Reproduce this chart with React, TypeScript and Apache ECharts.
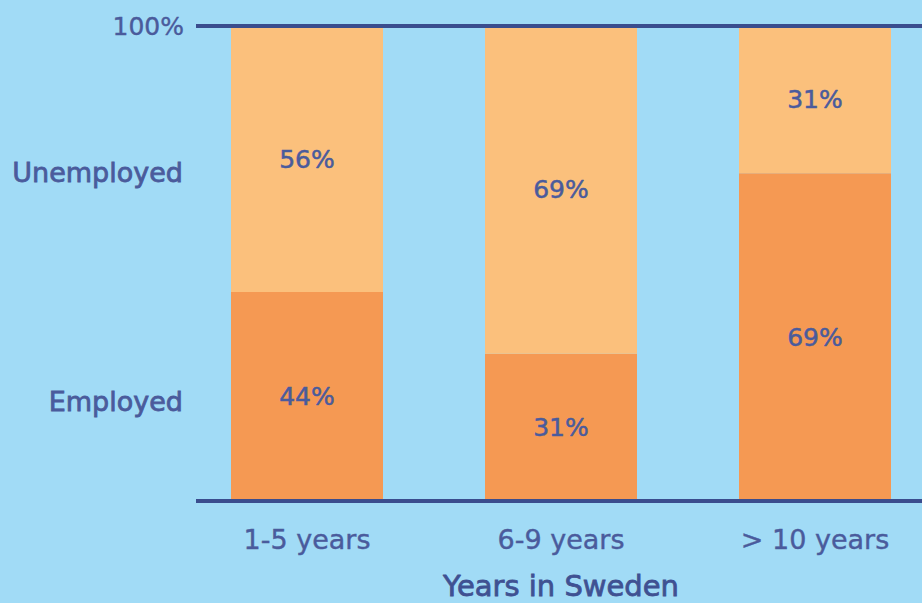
import React, { useEffect, useRef } from "react";
import * as echarts from "echarts";

const categories = ["1-5 years", "6-9 years", "> 10 years"];
const employed = [44, 31, 69];
const unemployed = [56, 69, 31];
const yTickLabels = ["100%"];
const sideLabels = ["Unemployed", "Employed"];
const axisName = "Years in Sweden";

const TEXT = "#4A5B9C";
const LINE = "#3A4D8E";
const FONT = "DejaVu Sans";

export default function App() {
  const ref = useRef<HTMLDivElement>(null);
  useEffect(() => {
    if (!ref.current) return;
    const chart = echarts.init(ref.current, null, { renderer: "svg" });
    const labelStyle = {
      show: true,
      position: "inside",
      formatter: (p: any) => p.value + "%",
      color: TEXT,
      fontFamily: FONT,
      fontSize: 25,
      textBorderColor: TEXT,
      textBorderWidth: 0.5,
    };
    chart.setOption({
      animation: false,
      backgroundColor: "#A1DBF6",
      grid: { left: 180, top: 26, width: 762, height: 475, outerBoundsMode: "none", containLabel: false },
      xAxis: {
        type: "category",
        data: categories,
        axisLine: { show: false },
        axisTick: { show: false },
        axisLabel: {
          color: TEXT,
          fontFamily: FONT,
          fontSize: 27,
          margin: 25,
          textBorderColor: TEXT,
          textBorderWidth: 0.4,
        },
        name: axisName,
        nameLocation: "middle",
        nameGap: 70,
        nameTextStyle: {
          color: "#3F5192",
          fontFamily: FONT,
          fontSize: 29,
          textBorderColor: "#3F5192",
          textBorderWidth: 0.8,
        },
      },
      yAxis: {
        type: "value",
        min: 0,
        max: 100,
        interval: 100,
        splitLine: { show: false },
        axisLine: { show: false },
        axisTick: { show: false },
        axisLabel: {
          color: TEXT,
          fontFamily: FONT,
          fontSize: 25,
          margin: -4,
          textBorderColor: TEXT,
          textBorderWidth: 0.4,
          formatter: (v: number) => (v === 100 ? yTickLabels[0] : ""),
        },
      },
      series: [
        {
          type: "bar",
          stack: "all",
          data: employed,
          barWidth: 152,
          itemStyle: { color: "#F59953" },
          label: labelStyle,
        },
        {
          type: "bar",
          stack: "all",
          data: unemployed,
          barWidth: 152,
          itemStyle: { color: "#FBC07C" },
          label: labelStyle,
        },
      ],
      graphic: [
        {
          type: "line",
          z: 100,
          shape: { x1: 196, y1: 26, x2: 922, y2: 26 },
          style: { stroke: LINE, lineWidth: 4 },
        },
        {
          type: "line",
          z: 100,
          shape: { x1: 196, y1: 501, x2: 922, y2: 501 },
          style: { stroke: LINE, lineWidth: 4 },
        },
        {
          type: "text",
          x: 183,
          y: 172,
          style: {
            text: sideLabels[0],
            fill: TEXT,
            stroke: TEXT,
            lineWidth: 0.8,
            font: `27px "${FONT}"`,
            textAlign: "right",
            textVerticalAlign: "middle",
          },
        },
        {
          type: "text",
          x: 183,
          y: 401,
          style: {
            text: sideLabels[1],
            fill: TEXT,
            stroke: TEXT,
            lineWidth: 0.8,
            font: `27px "${FONT}"`,
            textAlign: "right",
            textVerticalAlign: "middle",
          },
        },
      ],
    });
    return () => chart.dispose();
  }, []);
  return <div ref={ref} style={{ width: 922, height: 603, position: "fixed", left: 0, top: 0 }} />;
}
